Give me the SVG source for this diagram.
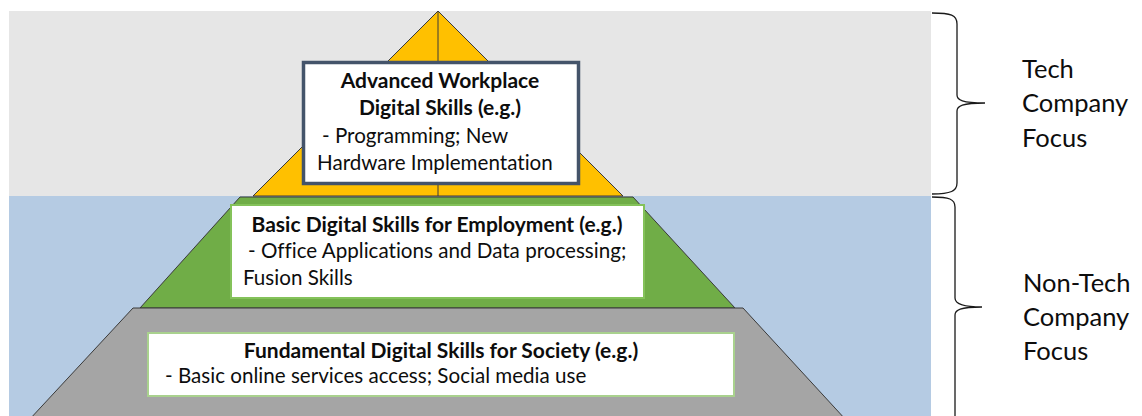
<svg xmlns="http://www.w3.org/2000/svg" width="1142" height="416" viewBox="0 0 1142 416">
  <style>
    .tier { stroke: #3a3a3a; stroke-width: 1; stroke-linejoin: miter; }
    .t { font-family: Lato, "Open Sans", "Liberation Sans", sans-serif; font-size: 20.6px; fill: #0d0d0d; font-variant-ligatures: none; }
    .b { font-weight: bold; font-size: 21px; }
    .side { font-family: Lato, "Open Sans", "Liberation Sans", sans-serif; font-size: 25.5px; fill: #0d0d0d; }
    .brace { fill: none; stroke: #1a1a1a; stroke-width: 1.3; }
  </style>

  <!-- background bands -->
  <rect x="9" y="11" width="922" height="185" fill="#e6e6e6"/>
  <rect x="9" y="196" width="922" height="220" fill="#b5cbe3"/>

  <!-- top tier: advanced skills -->
  <g id="tier-advanced">
    <polygon class="tier" points="438,11 253,196 623,196" fill="#ffc000"/>
    <line x1="438" y1="11" x2="438" y2="196" stroke="#3a3a3a" stroke-width="1"/>
    <rect x="303.5" y="62.5" width="275" height="121" fill="#ffffff" stroke="#44546a" stroke-width="3.5"/>
    <text class="t b" x="440" y="88" text-anchor="middle">Advanced Workplace</text>
    <text class="t b" x="440" y="115" text-anchor="middle">Digital Skills (e.g.)</text>
    <text class="t" x="322" y="143">- Programming; New</text>
    <text class="t" x="317" y="170">Hardware Implementation</text>
  </g>

  <!-- middle tier: basic skills for employment -->
  <g id="tier-basic">
    <polygon class="tier" points="240,197 633,197 735,308 140,308" fill="#70ad47"/>
    <rect x="231" y="205" width="413" height="93" fill="#ffffff" stroke="#84c25a" stroke-width="2"/>
    <text class="t b" x="437" y="232" text-anchor="middle">Basic Digital Skills for Employment (e.g.)</text>
    <text class="t" x="248" y="258">- Office Applications and Data processing;</text>
    <text class="t" x="243" y="285">Fusion Skills</text>
  </g>

  <!-- base tier: fundamental skills -->
  <g id="tier-fundamental">
    <polygon class="tier" points="133,308 743,308 846,420 29,420" fill="#a5a5a5"/>
    <rect x="148" y="333" width="586" height="63" fill="#ffffff" stroke="#a9d18e" stroke-width="2"/>
    <text class="t b" x="441" y="358" text-anchor="middle">Fundamental Digital Skills for Society (e.g.)</text>
    <text class="t" x="165" y="383">- Basic online services access; Social media use</text>
  </g>

  <!-- braces grouping the tiers -->
  <g id="connectors">
    <path class="brace" d="M932,13 C951,13 957,15 957,24 V95 C957,100 962,103 985,103 M985,103 C962,103 957,106 957,111 V183 C957,191 951,194 932,194"/>
    <path class="brace" d="M932,197 C949,197 955,199 955,207 V298 C955,303 960,307 982,307 M982,307 C960,307 955,310 955,315 V420"/>
  </g>

  <g id="label-tech">
    <text class="side" x="1022" y="78">Tech</text>
    <text class="side" x="1022" y="112">Company</text>
    <text class="side" x="1022" y="147">Focus</text>
  </g>
  <g id="label-nontech">
    <text class="side" x="1023" y="292">Non-Tech</text>
    <text class="side" x="1023" y="326">Company</text>
    <text class="side" x="1023" y="360">Focus</text>
  </g>
</svg>
